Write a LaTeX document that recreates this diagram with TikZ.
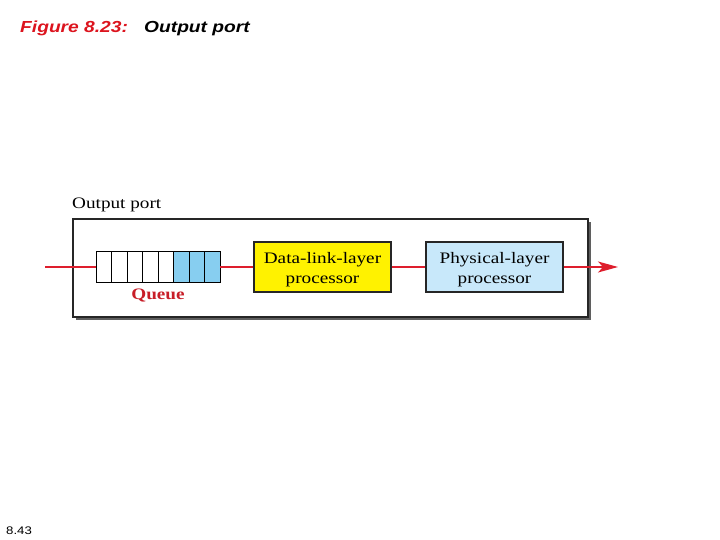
\documentclass[tikz,border=0pt]{standalone}
\usepackage{fontspec}
\setmainfont{Liberation Serif}[FakeStretch=1.2]
\newfontfamily\arialw{Liberation Sans}[FakeStretch=1.2]
\usetikzlibrary{arrows.meta}
\definecolor{redline}{RGB}{222,30,45}
\definecolor{titlered}{RGB}{220,20,30}
\definecolor{queuered}{RGB}{200,30,40}
\definecolor{qblue}{RGB}{135,206,240}
\definecolor{pblue}{RGB}{200,232,250}
\definecolor{dyellow}{RGB}{255,242,0}
\definecolor{shadowgray}{RGB}{95,95,95}
\begin{document}
\begin{tikzpicture}[x=1pt,y=-1pt,
  portbox/.style={draw=black!85, line width=1.7pt, fill=white, minimum width=515pt, minimum height=98pt, inner sep=0pt, anchor=north west},
  cell/.style={draw=black, line width=0.9pt, minimum width=15.5pt, minimum height=31pt, inner sep=0pt},
  procbox/.style={draw=black!85, line width=1.1pt, minimum width=137pt, minimum height=50pt, inner sep=0pt, align=center, font=\fontsize{16}{20}\selectfont},
  flow/.style={draw=redline, line width=1.3pt}
]
\useasboundingbox (0,0) rectangle (720,540);
% title
\node[anchor=base west, inner sep=0pt, text=titlered, font=\arialw\fontsize{16}{19}\selectfont\bfseries\itshape] (fig) at (20,33) {Figure 8.23:};
\node[anchor=base west, inner sep=0pt, font=\arialw\fontsize{16}{19}\selectfont\bfseries\itshape] (figtitle) at (144,33) {Output port};
\node[anchor=base west, inner sep=0pt, font=\arialw\fontsize{11}{13}\selectfont] (pageno) at (6,534) {8.43};
% shadow and box
\fill[shadowgray] (76,222) rectangle (591,320);
\node[portbox] (port) at (72,218) {};
\node[anchor=base west, inner sep=0pt, font=\fontsize{16}{19}\selectfont] (portlabel) at (72,208) {Output port};
% queue
\foreach \i in {1,...,5} {
  \node[cell, fill=white] (q\i) at ({96+15.5*(\i-0.5)},267) {};
}
\foreach \i in {6,7,8} {
  \node[cell, fill=qblue] (q\i) at ({96+15.5*(\i-0.5)},267) {};
}
\node[text=queuered, font=\fontsize{16}{19}\selectfont\bfseries, inner sep=0pt] (qlabel) at (158,295.5) {Queue};
% processors
\node[procbox, fill=dyellow] (dl) at (322.5,267) {\rule{0pt}{16pt}Data-link-layer\\processor};
\node[procbox, fill=pblue] (ph) at (494.5,267) {\rule{0pt}{16pt}Physical-layer\\processor};
% connectors
\coordinate (in) at (45,267);
\coordinate (out) at (618,267);
\draw[flow] (in) -- (q1.west);
\draw[flow] (q8.east) -- (dl.west);
\draw[flow] (dl.east) -- (ph.west);
\draw[flow, -{Stealth[length=20pt,width=11pt,inset=5pt]}] (ph.east) -- (out);
\end{tikzpicture}
\end{document}
